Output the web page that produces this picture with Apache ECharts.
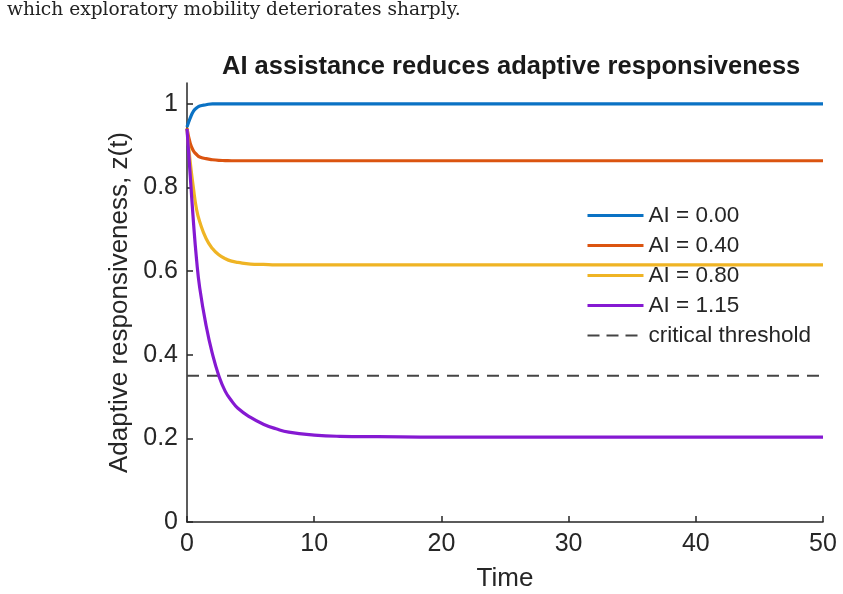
<!DOCTYPE html>
<html>
<head>
<meta charset="utf-8">
<script src="https://cdn.jsdelivr.net/npm/echarts@6/dist/echarts.min.js"></script>
<style>
html, body { margin: 0; padding: 0; background: #fff; }
#chart1 { width: 843px; height: 594px; }
</style>
</head>
<body>
<div id="chart1"></div>
<script>
// values
var timeList = [0, 0.25, 0.5, 0.75, 1, 1.5, 2, 2.5, 3, 3.5, 4, 5, 6, 7, 8, 10, 12, 15, 20, 30, 40, 50];
var ai000List = [0.945, 0.966, 0.982, 0.990, 0.995, 0.998, 1.0, 1.0, 1.0, 1.0, 1.0, 1.0, 1.0, 1.0, 1.0, 1.0, 1.0, 1.0, 1.0, 1.0, 1.0, 1.0];
var ai040List = [0.942, 0.906, 0.888, 0.879, 0.873, 0.869, 0.8665, 0.865, 0.8645, 0.864, 0.864, 0.864, 0.864, 0.864, 0.864, 0.864, 0.864, 0.864, 0.864, 0.864, 0.864, 0.864];
var ai080List = [0.940, 0.862, 0.800, 0.748, 0.718, 0.678, 0.654, 0.639, 0.630, 0.624, 0.621, 0.617, 0.616, 0.615, 0.615, 0.615, 0.615, 0.615, 0.615, 0.615, 0.615, 0.615];
var ai115List = [0.940, 0.830, 0.720, 0.628, 0.560, 0.470, 0.402, 0.350, 0.313, 0.290, 0.272, 0.250, 0.234, 0.223, 0.215, 0.208, 0.205, 0.204, 0.203, 0.203, 0.203, 0.203];
var thresholdTimes = [0, 50];
var thresholdValue = 0.35;
var legenderList = ['AI = 0.00', 'AI = 0.40', 'AI = 0.80', 'AI = 1.15', 'critical threshold'];
var yTicks = [0, 0.2, 0.4, 0.6, 0.8, 1];

var font = '"Liberation Sans", Arial, Helvetica, sans-serif';
var ink = '#262626';

function pairs(xs, ys) {
	var out = [];
	for (var i = 0; i < xs.length; i++) {
		out.push([xs[i], ys[i]]);
	}
	return out;
}

function curve(name, list, color) {
	return {
		name: name,
		type: 'line',
		data: pairs(timeList, list),
		showSymbol: false,
		symbol: 'none',
		smooth: 0.5,
		z: 5,
		lineStyle: { color: color, width: 3.2 },
		itemStyle: { color: color }
	};
}

var thresholdData = [];
for (var k = 0; k < thresholdTimes.length; k++) {
	thresholdData.push([thresholdTimes[k], thresholdValue]);
}

// legend entries: solid ones a bit thicker, the dashed one thin
var legendItems = [];
for (var j = 0; j < legenderList.length; j++) {
	var isDash = legenderList[j] == 'critical threshold';
	legendItems.push({
		name: legenderList[j],
		lineStyle: isDash ? { width: 2, type: [12, 7] } : { width: 3 }
	});
}

var option = {
	animation: false,
	backgroundColor: '#fff',
	title: {
		text: 'AI assistance reduces adaptive responsiveness',
		left: 217,
		top: 49,
		textStyle: { fontFamily: font, fontSize: 25.5, fontWeight: 'bold', color: '#1a1a1a' }
	},
	graphic: [{
		type: 'text',
		left: 7,
		top: 1,
		style: {
			text: 'which exploratory mobility deteriorates sharply.',
			font: '18.6px "DejaVu Serif", "Liberation Serif", serif',
			fill: '#222'
		}
	}],
	legend: {
		data: legendItems,
		orient: 'vertical',
		left: 581,
		top: 199,
		z: 1,
		itemWidth: 56,
		itemHeight: 14,
		itemGap: 7,
		itemStyle: { opacity: 0 },
		textStyle: { fontFamily: font, fontSize: 22.5, color: ink }
	},
	grid: { left: 187, right: 20, top: 83, bottom: 72, containLabel: false, outerBoundsMode: 'none' },
	xAxis: {
		type: 'value',
		min: 0,
		max: 50,
		interval: 10,
		name: 'Time',
		nameLocation: 'middle',
		nameGap: 44,
		nameTextStyle: { fontFamily: font, fontSize: 26, color: ink },
		splitLine: { show: false },
		axisLine: { lineStyle: { color: ink, width: 1.5 } },
		axisTick: { inside: true, length: 6, lineStyle: { color: ink, width: 1.5 } },
		axisLabel: { fontFamily: font, fontSize: 25, color: ink, margin: 10 }
	},
	yAxis: {
		type: 'value',
		min: 0,
		max: 1.05,
		name: 'Adaptive responsiveness, z(t)',
		nameLocation: 'middle',
		nameGap: 50,
		nameTextStyle: { fontFamily: font, fontSize: 26, color: ink },
		splitLine: { show: false },
		axisLine: { lineStyle: { color: ink, width: 1.5 } },
		axisTick: { inside: true, length: 6, customValues: yTicks, lineStyle: { color: ink, width: 1.5 } },
		axisLabel: { fontFamily: font, fontSize: 25, color: ink, margin: 9, customValues: yTicks }
	},
	series: [
		curve('AI = 0.00', ai000List, '#0b72c4'),
		curve('AI = 0.40', ai040List, '#db5410'),
		curve('AI = 0.80', ai080List, '#efb424'),
		curve('AI = 1.15', ai115List, '#8519d2'),
		{
			name: 'critical threshold',
			type: 'line',
			data: thresholdData,
			showSymbol: false,
			symbol: 'none',
			z: 4,
			lineStyle: { color: '#444', width: 2, type: [12, 8] },
			itemStyle: { color: '#444' }
		}
	]
};

var chart1 = echarts.init(document.getElementById('chart1'));
chart1.setOption(option);
</script>
</body>
</html>
